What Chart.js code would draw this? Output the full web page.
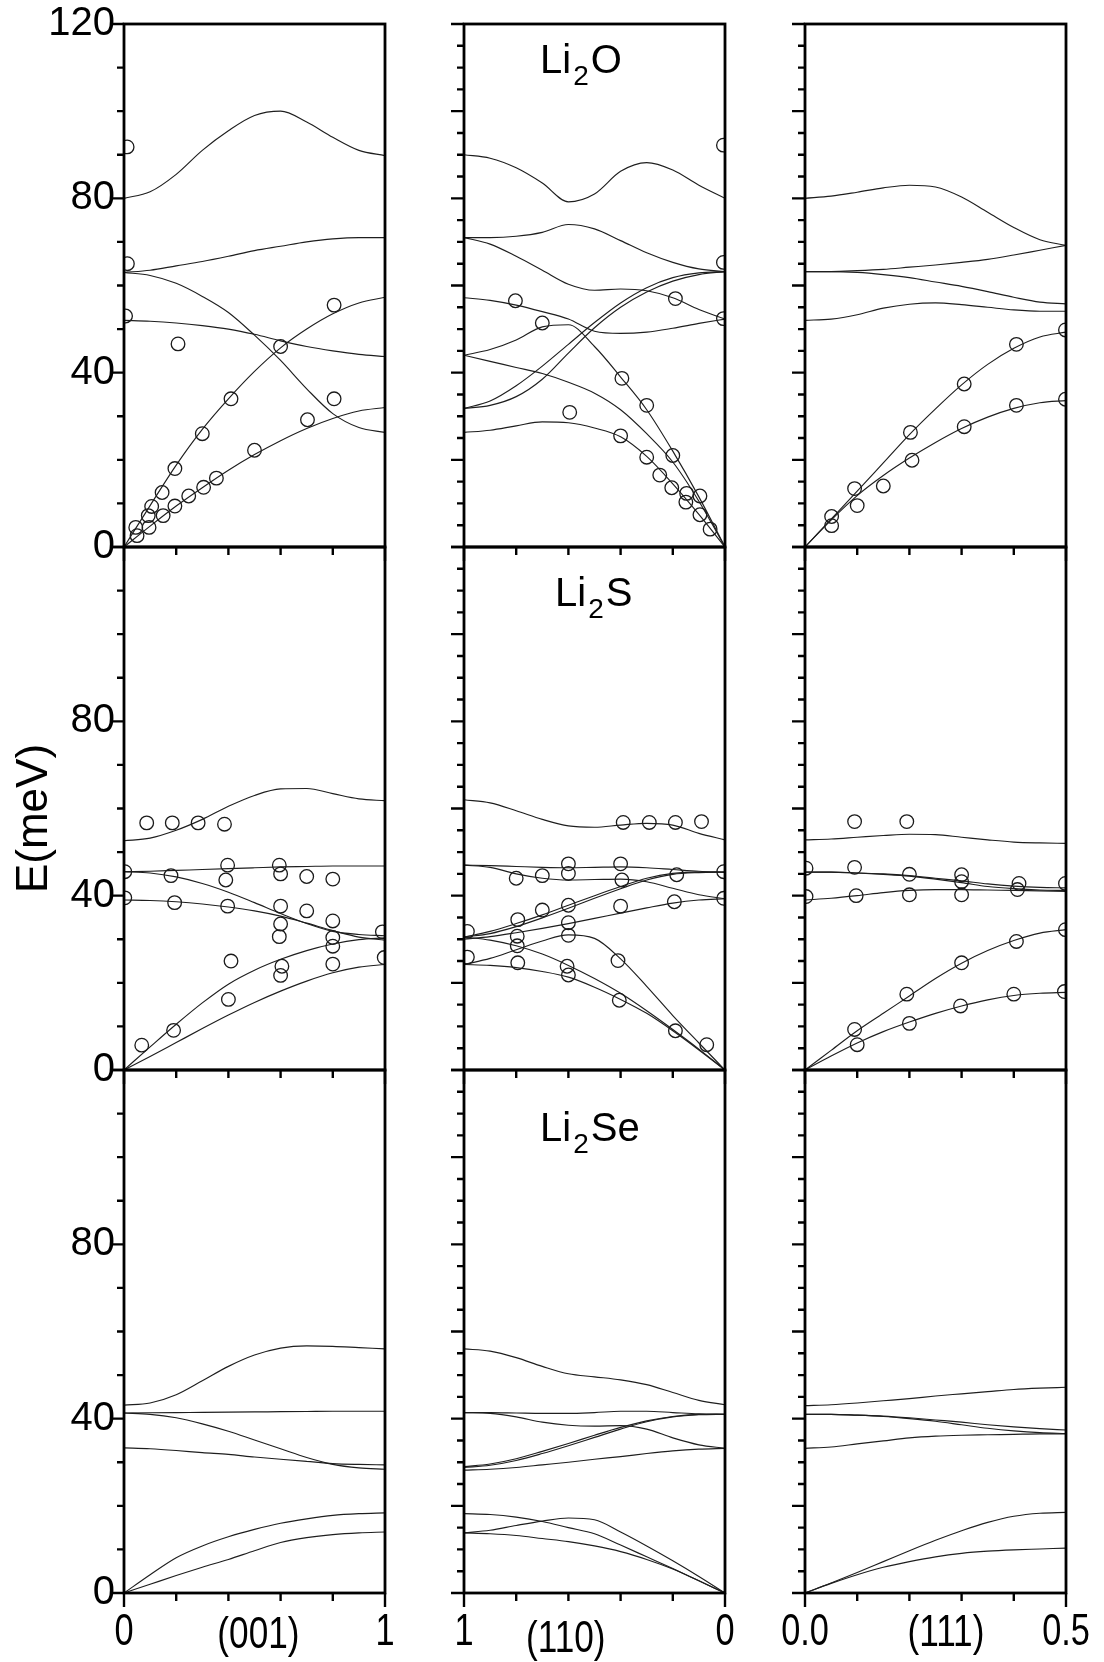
<!DOCTYPE html>
<html>
<head>
<meta charset="utf-8">
<script src="https://cdn.jsdelivr.net/npm/chart.js@4.4.1/dist/chart.umd.min.js"></script>
<style>
  body { margin: 0; background: #fff; }
  #wrap { position: relative; width: 1104px; height: 1662px; overflow: hidden; }
  #wrap canvas { position: absolute; }
</style>
</head>
<body>
<div id="wrap"></div>
<script>
// wave vector grids (left to right on each panel)
const q001 = [0, 0.1, 0.2, 0.3, 0.4, 0.5, 0.6, 0.7, 0.8, 0.9, 1];
const q110 = [1, 0.9, 0.8, 0.7, 0.6, 0.5, 0.4, 0.3, 0.2, 0.1, 0];
const q111 = [0, 0.05, 0.1, 0.15, 0.2, 0.25, 0.3, 0.35, 0.4, 0.45, 0.5];

// ---- Li2O, calculated branches (meV)
const o001_1 = [80, 81.5, 85.5, 91, 95.5, 99, 100, 97.5, 94, 91, 89.8];
const o001_2 = [63, 63.5, 64.5, 65.5, 66.7, 68, 69, 70, 70.7, 71, 71];
const o001_3 = [63, 62.3, 60.5, 57.5, 53.8, 48.6, 42.8, 36.3, 30.6, 27.4, 26.3];
const o001_4 = [52, 51.8, 51.4, 50.8, 50, 48.8, 47.3, 46, 45, 44.2, 43.7];
const o001_5 = [0, 9.5, 18.8, 27, 34, 40.3, 45.7, 50, 53.5, 56, 57.3];
const o001_6 = [0, 4.8, 9.4, 13.6, 17.6, 21.2, 24.4, 27.2, 29.5, 31.2, 32];

const o110_1 = [90, 89.2, 87, 83.5, 79.2, 81, 86.2, 88.2, 86.5, 83, 80];
const o110_2 = [71, 71, 71.3, 72.2, 74, 73, 70.3, 67.5, 65.3, 63.8, 63.2];
const o110_3 = [71, 69.5, 66.7, 63.5, 60.3, 58.9, 59.2, 58.8, 57.2, 54.5, 52.3];
const o110_4 = [57.2, 56.6, 55.5, 54, 52.3, 49.5, 49, 49.3, 50.2, 51.3, 52.3];
const o110_5 = [44, 45.3, 47.5, 50.5, 51, 46, 39, 31.5, 22, 11.5, 0];
const o110_6 = [44, 42.6, 41.2, 39.8, 37.8, 35.3, 31.5, 26, 19.5, 10.5, 0];
const o110_7 = [31.8, 33.5, 37, 41.5, 46.5, 51.5, 56, 59.5, 61.8, 62.9, 63.2];
const o110_8 = [31.8, 32.5, 34.5, 38.5, 44.5, 50.3, 55, 58.5, 61, 62.5, 63.2];
const o110_9 = [26.3, 26.8, 27.8, 28.7, 28.5, 27.3, 25.3, 20.8, 14.5, 7.5, 0];

const o111_1 = [80, 80.5, 81.4, 82.4, 83, 82.6, 80.3, 76.8, 73.3, 70.5, 69.2];
const o111_2 = [63.2, 63.2, 63.4, 63.7, 64.2, 64.7, 65.3, 66, 67, 68.1, 69.2];
const o111_3 = [63.2, 63.2, 63, 62.5, 61.8, 60.8, 59.8, 58.6, 57.3, 56.2, 55.8];
const o111_4 = [52, 52.3, 53.3, 54.8, 55.7, 56, 55.6, 55, 54.4, 54.1, 54.1];
const o111_5 = [0, 6.4, 12.8, 19.3, 25.8, 31.7, 37.2, 41.9, 45.6, 48.2, 49.3];
const o111_6 = [0, 6.2, 11.8, 16.4, 20.4, 24, 27.2, 29.8, 31.8, 33.1, 33.6];

// ---- Li2S, calculated branches (meV)
const s001_1 = [52.6, 53.2, 55, 57.5, 60.5, 63, 64.5, 64.6, 63.4, 62.2, 61.8];
const s001_2 = [45.5, 45.6, 45.8, 46, 46.2, 46.4, 46.6, 46.7, 46.8, 46.8, 46.8];
const s001_3 = [45.5, 45.2, 44.3, 42.8, 40.8, 38.4, 35.9, 33.6, 31.8, 31.1, 30.8];
const s001_4 = [39, 38.9, 38.6, 38.1, 37.4, 36.5, 35.3, 33.7, 32, 30.5, 29.8];
const s001_5 = [0, 5.3, 10.5, 15.4, 19.7, 22.9, 25.4, 27.4, 28.9, 29.9, 30.3];
const s001_6 = [0, 3.1, 6.3, 9.5, 12.6, 15.5, 18.1, 20.4, 22.3, 23.6, 24.2];

const s110_1 = [62, 61.3, 59.5, 57.5, 56, 55.7, 56.2, 56.6, 56.2, 54.3, 52.8];
const s110_2 = [47, 46.9, 46.7, 46.5, 46.4, 46.5, 46.6, 46.4, 46, 45.6, 45.4];
const s110_3 = [47, 46.5, 45, 44, 43.6, 43.7, 43.8, 43.2, 41.7, 40.2, 39.3];
const s110_4 = [30.5, 31.8, 33.6, 35.6, 37.8, 40, 42.1, 44, 45.1, 45.4, 45.4];
const s110_5 = [30.5, 31.3, 32.9, 34.9, 37.1, 39.4, 41.6, 43.6, 44.9, 45.3, 45.4];
const s110_6 = [30, 30.6, 31.5, 32.5, 33.6, 34.8, 36, 37.2, 38.3, 39, 39.3];
const s110_7 = [30.5, 29.8, 28.5, 26.6, 24, 21, 17.6, 13.6, 9.3, 4.8, 0];
const s110_8 = [24.2, 25.6, 27.6, 29.6, 31, 30.2, 25.5, 19.2, 12.5, 6.2, 0];
const s110_9 = [24.2, 24, 23.5, 22.6, 21.3, 19, 16.2, 13, 9, 4.6, 0];

const s111_1 = [52.8, 53, 53.4, 53.8, 54.1, 54, 53.4, 52.8, 52.3, 52.1, 52];
const s111_2 = [45.4, 45.4, 45.2, 45, 44.6, 44, 43.4, 42.7, 42.2, 41.9, 41.8];
const s111_3 = [45.4, 45.4, 45.2, 44.9, 44.5, 43.8, 43, 42.1, 41.6, 41.3, 41.2];
const s111_4 = [39, 39.4, 40, 40.7, 41.2, 41.4, 41.4, 41.3, 41.2, 41.1, 41];
const s111_5 = [0, 4.5, 9, 13, 17, 21, 24.5, 27.4, 29.7, 31.4, 32.2];
const s111_6 = [0, 3.2, 6.2, 8.8, 11, 13, 14.7, 16.1, 17.1, 17.6, 17.8];

// ---- Li2Se, calculated branches (meV)
const e001_1 = [43.1, 43.6, 45.5, 48.7, 52, 54.6, 56.2, 56.7, 56.6, 56.3, 56];
const e001_2 = [41.3, 41.35, 41.4, 41.45, 41.5, 41.55, 41.6, 41.65, 41.7, 41.7, 41.7];
const e001_3 = [41.3, 41, 40.2, 38.8, 37.1, 35.1, 33.1, 31.1, 29.5, 28.7, 28.4];
const e001_4 = [33.3, 33.1, 32.7, 32.2, 31.8, 31.2, 30.7, 30.2, 29.7, 29.5, 29.4];
const e001_5 = [0, 4.2, 8.1, 10.8, 12.9, 14.6, 16, 17, 17.8, 18.2, 18.4];
const e001_6 = [0, 2, 4, 5.9, 7.7, 9.7, 11.6, 12.7, 13.4, 13.8, 14];

const e110_1 = [56, 55.5, 54, 52, 50.3, 49.6, 48.9, 47.8, 46, 44.2, 43.2];
const e110_2 = [41.4, 41.4, 41.3, 41.2, 41.2, 41.4, 41.7, 41.7, 41.4, 41.1, 41];
const e110_3 = [41.4, 41.2, 40.4, 39.2, 38.5, 38.3, 38.4, 37.6, 35.6, 34, 33.2];
const e110_4 = [29, 29.6, 30.8, 32.5, 34.3, 36.2, 38, 39.5, 40.5, 41, 41];
const e110_5 = [28.8, 29.3, 30.4, 32, 33.8, 35.7, 37.6, 39.3, 40.4, 40.9, 41];
const e110_6 = [28.2, 28.4, 28.8, 29.4, 30, 30.7, 31.3, 32, 32.6, 33, 33.2];
const e110_7 = [18.2, 18, 17.4, 16.4, 15, 13.6, 11, 8.3, 5.6, 2.8, 0];
const e110_8 = [13.8, 14.4, 15.5, 16.5, 17.2, 16.8, 14, 10.8, 7.4, 3.8, 0];
const e110_9 = [13.8, 13.6, 13.2, 12.5, 11.8, 10.8, 9.5, 7.7, 5.5, 2.8, 0];

const e111_1 = [43, 43.2, 43.6, 44.1, 44.6, 45.2, 45.7, 46.2, 46.7, 47, 47.2];
const e111_2 = [41, 41, 40.8, 40.6, 40.2, 39.7, 39.2, 38.6, 38.1, 37.7, 37.4];
const e111_3 = [41, 41, 40.8, 40.5, 40, 39.4, 38.6, 37.8, 37.2, 36.8, 36.6];
const e111_4 = [33.2, 33.5, 34.2, 34.9, 35.6, 36, 36.2, 36.3, 36.4, 36.5, 36.5];
const e111_5 = [0, 2.3, 4.7, 7.2, 9.7, 12.1, 14.3, 16.2, 17.6, 18.3, 18.5];
const e111_6 = [0, 2.2, 4.2, 5.9, 7.2, 8.3, 9.1, 9.6, 9.9, 10.1, 10.3];

// ---- measured points (open circles)
const expO001_q = [0.012, 0.013, 0.006, 0.207, 0.805, 0.6, 0.41, 0.3, 0.805, 0.703, 0.5, 0.354, 0.305, 0.248, 0.195, 0.195, 0.146, 0.106, 0.093, 0.15, 0.045, 0.096, 0.05];
const expO001_E = [91.8, 65, 53, 46.6, 55.5, 46, 34, 26, 34, 29.2, 22.2, 15.8, 13.7, 11.7, 9.4, 18, 12.5, 9.3, 7.2, 7.2, 4.5, 4.5, 2.6];
const expO110_q = [0.006, 0.006, 0.006, 0.803, 0.7, 0.19, 0.595, 0.395, 0.3, 0.4, 0.3, 0.25, 0.2, 0.204, 0.147, 0.15, 0.096, 0.096, 0.057];
const expO110_E = [92.2, 65.3, 52.4, 56.5, 51.4, 57, 30.9, 38.7, 32.5, 25.5, 20.6, 16.5, 21, 13.6, 12.3, 10.3, 11.7, 7.4, 4.1];
const expO111_q = [0.051, 0.051, 0.095, 0.1, 0.15, 0.202, 0.205, 0.305, 0.305, 0.405, 0.405, 0.499, 0.499];
const expO111_E = [7, 4.9, 13.4, 9.5, 14, 26.3, 19.9, 37.4, 27.6, 46.5, 32.5, 49.8, 33.9];

const expS001_q = [0.087, 0.185, 0.284, 0.385, 0.003, 0.003, 0.18, 0.194, 0.397, 0.39, 0.397, 0.41, 0.4, 0.19, 0.068, 0.595, 0.6, 0.6, 0.6, 0.595, 0.605, 0.6, 0.7, 0.7, 0.8, 0.8, 0.8, 0.8, 0.8, 0.99, 0.997];
const expS001_E = [56.7, 56.7, 56.7, 56.4, 45.5, 39.5, 44.6, 38.4, 47, 43.6, 37.6, 25, 16.2, 9.1, 5.7, 47, 45, 37.6, 33.5, 30.6, 23.8, 21.7, 44.4, 36.5, 43.8, 34.2, 30.4, 28.4, 24.3, 31.7, 25.8];
const expS110_q = [0.39, 0.29, 0.19, 0.09, 0.8, 0.7, 0.6, 0.6, 0.4, 0.395, 0.185, 0.005, 0.005, 0.194, 0.4, 0.6, 0.7, 0.6, 0.6, 0.794, 0.796, 0.796, 0.987, 0.987, 0.794, 0.605, 0.6, 0.41, 0.405, 0.19, 0.07];
const expS110_E = [56.8, 56.8, 56.8, 57, 44, 44.6, 47.3, 45.1, 47.3, 43.6, 44.8, 45.5, 39.4, 38.6, 37.6, 37.8, 36.7, 33.8, 30.9, 34.5, 30.7, 28.5, 31.8, 25.9, 24.6, 23.8, 21.8, 25.1, 16, 9, 5.8];
const expS111_q = [0.095, 0.195, 0.002, 0.002, 0.095, 0.2, 0.3, 0.3, 0.41, 0.407, 0.499, 0.098, 0.2, 0.3, 0.499, 0.405, 0.3, 0.195, 0.095, 0.1, 0.2, 0.298, 0.4, 0.497];
const expS111_E = [57, 57, 46.3, 39.8, 46.5, 44.9, 44.8, 43.2, 42.8, 41.4, 42.8, 40, 40.2, 40.2, 32.2, 29.5, 24.6, 17.4, 9.3, 5.8, 10.7, 14.7, 17.4, 18];

// ---- axes text
const xEndVals = [[0, 1], [1, 0], [0, 0.5]];
const xEndText = [['0', '1'], ['1', '0'], ['0.0', '0.5']];
const xTickMarks = [[0, 0.2, 0.4, 0.6, 0.8, 1], [1, 0.8, 0.6, 0.4, 0.2, 0], [0, 0.1, 0.2, 0.3, 0.4, 0.5]];
const xTitles = ['(001)', '(110)', '(111)'];
const yLabelVals = [[0, 40, 80, 120], [0, 40, 80], [0, 40, 80]];
const yTitle = 'E(meV)';
const compounds = [['Li', '2', 'O'], ['Li', '2', 'S'], ['Li', '2', 'Se']];

const FONT = "'Liberation Sans', Arial, Helvetica, sans-serif";

// page geometry of the panels
const colLeft = [124, 464, 805];
const rowTop = [24, 547, 1070];
const panelW = 261, panelH = 523;
const padL = 124, padT = 24, padR = 40, padB = 70;
const xRange = [[0, 1], [0, 1], [0, 0.5]];
const xReverse = [false, true, false];
const xTitleFrac = [0.515, 0.39, 0.54];
const xTitleDy = [43, 47, 41];
const compoundPos = [[76, 49], [91, 59], [76, 71]];

const panels = [
  { row: 0, col: 0, grid: q001, lines: [o001_1, o001_2, o001_3, o001_4, o001_5, o001_6], eq: expO001_q, ee: expO001_E },
  { row: 0, col: 1, grid: q110, lines: [o110_1, o110_2, o110_3, o110_4, o110_5, o110_6, o110_7, o110_8, o110_9], eq: expO110_q, ee: expO110_E },
  { row: 0, col: 2, grid: q111, lines: [o111_1, o111_2, o111_3, o111_4, o111_5, o111_6], eq: expO111_q, ee: expO111_E },
  { row: 1, col: 0, grid: q001, lines: [s001_1, s001_2, s001_3, s001_4, s001_5, s001_6], eq: expS001_q, ee: expS001_E },
  { row: 1, col: 1, grid: q110, lines: [s110_1, s110_2, s110_3, s110_4, s110_5, s110_6, s110_7, s110_8, s110_9], eq: expS110_q, ee: expS110_E },
  { row: 1, col: 2, grid: q111, lines: [s111_1, s111_2, s111_3, s111_4, s111_5, s111_6], eq: expS111_q, ee: expS111_E },
  { row: 2, col: 0, grid: q001, lines: [e001_1, e001_2, e001_3, e001_4, e001_5, e001_6] },
  { row: 2, col: 1, grid: q110, lines: [e110_1, e110_2, e110_3, e110_4, e110_5, e110_6, e110_7, e110_8, e110_9] },
  { row: 2, col: 2, grid: q111, lines: [e111_1, e111_2, e111_3, e111_4, e111_5, e111_6] },
];

// narrow text, like the condensed labels under the bottom row
function narrowText(ctx, text, x, y, size, sx) {
  ctx.save();
  ctx.font = size + 'px ' + FONT;
  ctx.textAlign = 'center';
  ctx.textBaseline = 'middle';
  ctx.translate(x, y);
  ctx.scale(sx, 1);
  ctx.fillText(text, 0, 0);
  ctx.restore();
}

// box, tick marks, bottom labels, axis title and formula labels
const frame = {
  id: 'frame',
  afterDraw(chart, args, o) {
    const { ctx, chartArea: a } = chart;
    const xs = chart.scales.x, ys = chart.scales.y;
    ctx.save();
    ctx.strokeStyle = '#000';
    ctx.lineWidth = 2.4;
    ctx.beginPath();
    for (let v = 0; v <= 120; v += o.yStep) {
      const py = ys.getPixelForValue(v);
      const len = v % o.yMajor === 0 ? 13 : 7;
      ctx.moveTo(a.left, py);
      ctx.lineTo(a.left - len, py);
    }
    o.xTicks.forEach((v, i) => {
      const px = xs.getPixelForValue(v);
      const len = (i === 0 || i === o.xTicks.length - 1) ? 14 : 8;
      ctx.moveTo(px, a.bottom);
      ctx.lineTo(px, a.bottom + len);
    });
    ctx.stroke();
    ctx.lineWidth = 2.8;
    ctx.strokeRect(a.left, a.top, a.right - a.left, a.bottom - a.top);

    ctx.fillStyle = '#000';
    if (o.bottom) {
      xEndVals[o.col].forEach((v, i) => {
        narrowText(ctx, xEndText[o.col][i], xs.getPixelForValue(v), a.bottom + 40, 44, 0.78);
      });
      narrowText(ctx, xTitles[o.col], a.left + xTitleFrac[o.col] * (a.right - a.left),
        a.bottom + xTitleDy[o.col], 44, 0.8);
    }
    if (o.yTitle) {
      ctx.save();
      ctx.translate(35, (a.top + a.bottom) / 2 + 10);
      ctx.rotate(-Math.PI / 2);
      ctx.font = '44px ' + FONT;
      ctx.textAlign = 'center';
      ctx.textBaseline = 'middle';
      ctx.fillText(o.yTitle, 0, 0);
      ctx.restore();
    }
    if (o.compound) {
      const [main, sub, rest] = o.compound;
      let px = a.left + o.pos[0];
      const base = a.top + o.pos[1];
      ctx.textAlign = 'left';
      ctx.textBaseline = 'alphabetic';
      ctx.font = '40px ' + FONT;
      ctx.fillText(main, px, base);
      px += ctx.measureText(main).width + 2;
      ctx.font = '28px ' + FONT;
      ctx.fillText(sub, px, base + 12);
      px += ctx.measureText(sub).width + 2;
      ctx.font = '40px ' + FONT;
      ctx.fillText(rest, px, base);
    }
    ctx.restore();
  }
};

const wrap = document.getElementById('wrap');
const pts = (grid, vals) => grid.map((q, i) => ({ x: q, y: vals[i] }));

panels.forEach(p => {
  const r = p.row, c = p.col;
  const W = padL + panelW + padR, H = padT + panelH + padB;
  const cv = document.createElement('canvas');
  cv.width = W; cv.height = H;
  cv.style.width = W + 'px'; cv.style.height = H + 'px';
  cv.style.left = (colLeft[c] - padL) + 'px';
  cv.style.top = (rowTop[r] - padT) + 'px';
  wrap.appendChild(cv);

  const datasets = p.lines.map(v => ({
    data: pts(p.grid, v),
    showLine: true,
    pointRadius: 0,
    borderColor: '#1e1e1e',
    borderWidth: 1.15,
    cubicInterpolationMode: 'monotone'
  }));
  if (p.eq) {
    datasets.push({
      data: p.eq.map((q, i) => ({ x: q, y: p.ee[i] })),
      showLine: false,
      pointRadius: 6.8,
      pointBorderWidth: 1.3,
      pointBorderColor: '#1a1a1a',
      pointBackgroundColor: 'rgba(0,0,0,0)'
    });
  }

  new Chart(cv, {
    type: 'scatter',
    data: { datasets },
    options: {
      responsive: false,
      animation: false,
      devicePixelRatio: 1,
      events: [],
      layout: { padding: { left: 0, top: padT, right: padR, bottom: 0 } },
      plugins: {
        legend: { display: false },
        tooltip: { enabled: false },
        frame: {
          col: c,
          yStep: c === 0 ? 10 : 5,
          yMajor: c === 0 ? 40 : 20,
          xTicks: xTickMarks[c],
          bottom: r === 2,
          yTitle: c === 0 && r === 1 ? yTitle : null,
          compound: c === 1 ? compounds[r] : null,
          pos: compoundPos[r]
        }
      },
      scales: {
        x: {
          type: 'linear',
          min: xRange[c][0],
          max: xRange[c][1],
          reverse: xReverse[c],
          grid: { display: false, drawTicks: false },
          border: { display: false },
          ticks: { display: false },
          afterFit: s => { s.height = padB; s.paddingLeft = 0; s.paddingRight = 0; }
        },
        y: {
          type: 'linear',
          min: 0,
          max: 120,
          grid: { display: false, drawTicks: false },
          border: { display: false },
          afterBuildTicks: s => { s.ticks = yLabelVals[r].map(v => ({ value: v })); },
          ticks: {
            display: c === 0,
            autoSkip: false,
            padding: 9,
            color: '#000',
            font: { family: FONT, size: 40 },
            callback: v => String(v)
          },
          afterFit: s => { s.width = padL; s.paddingTop = 0; s.paddingBottom = 0; }
        }
      }
    },
    plugins: [frame]
  });
});
</script>
</body>
</html>
